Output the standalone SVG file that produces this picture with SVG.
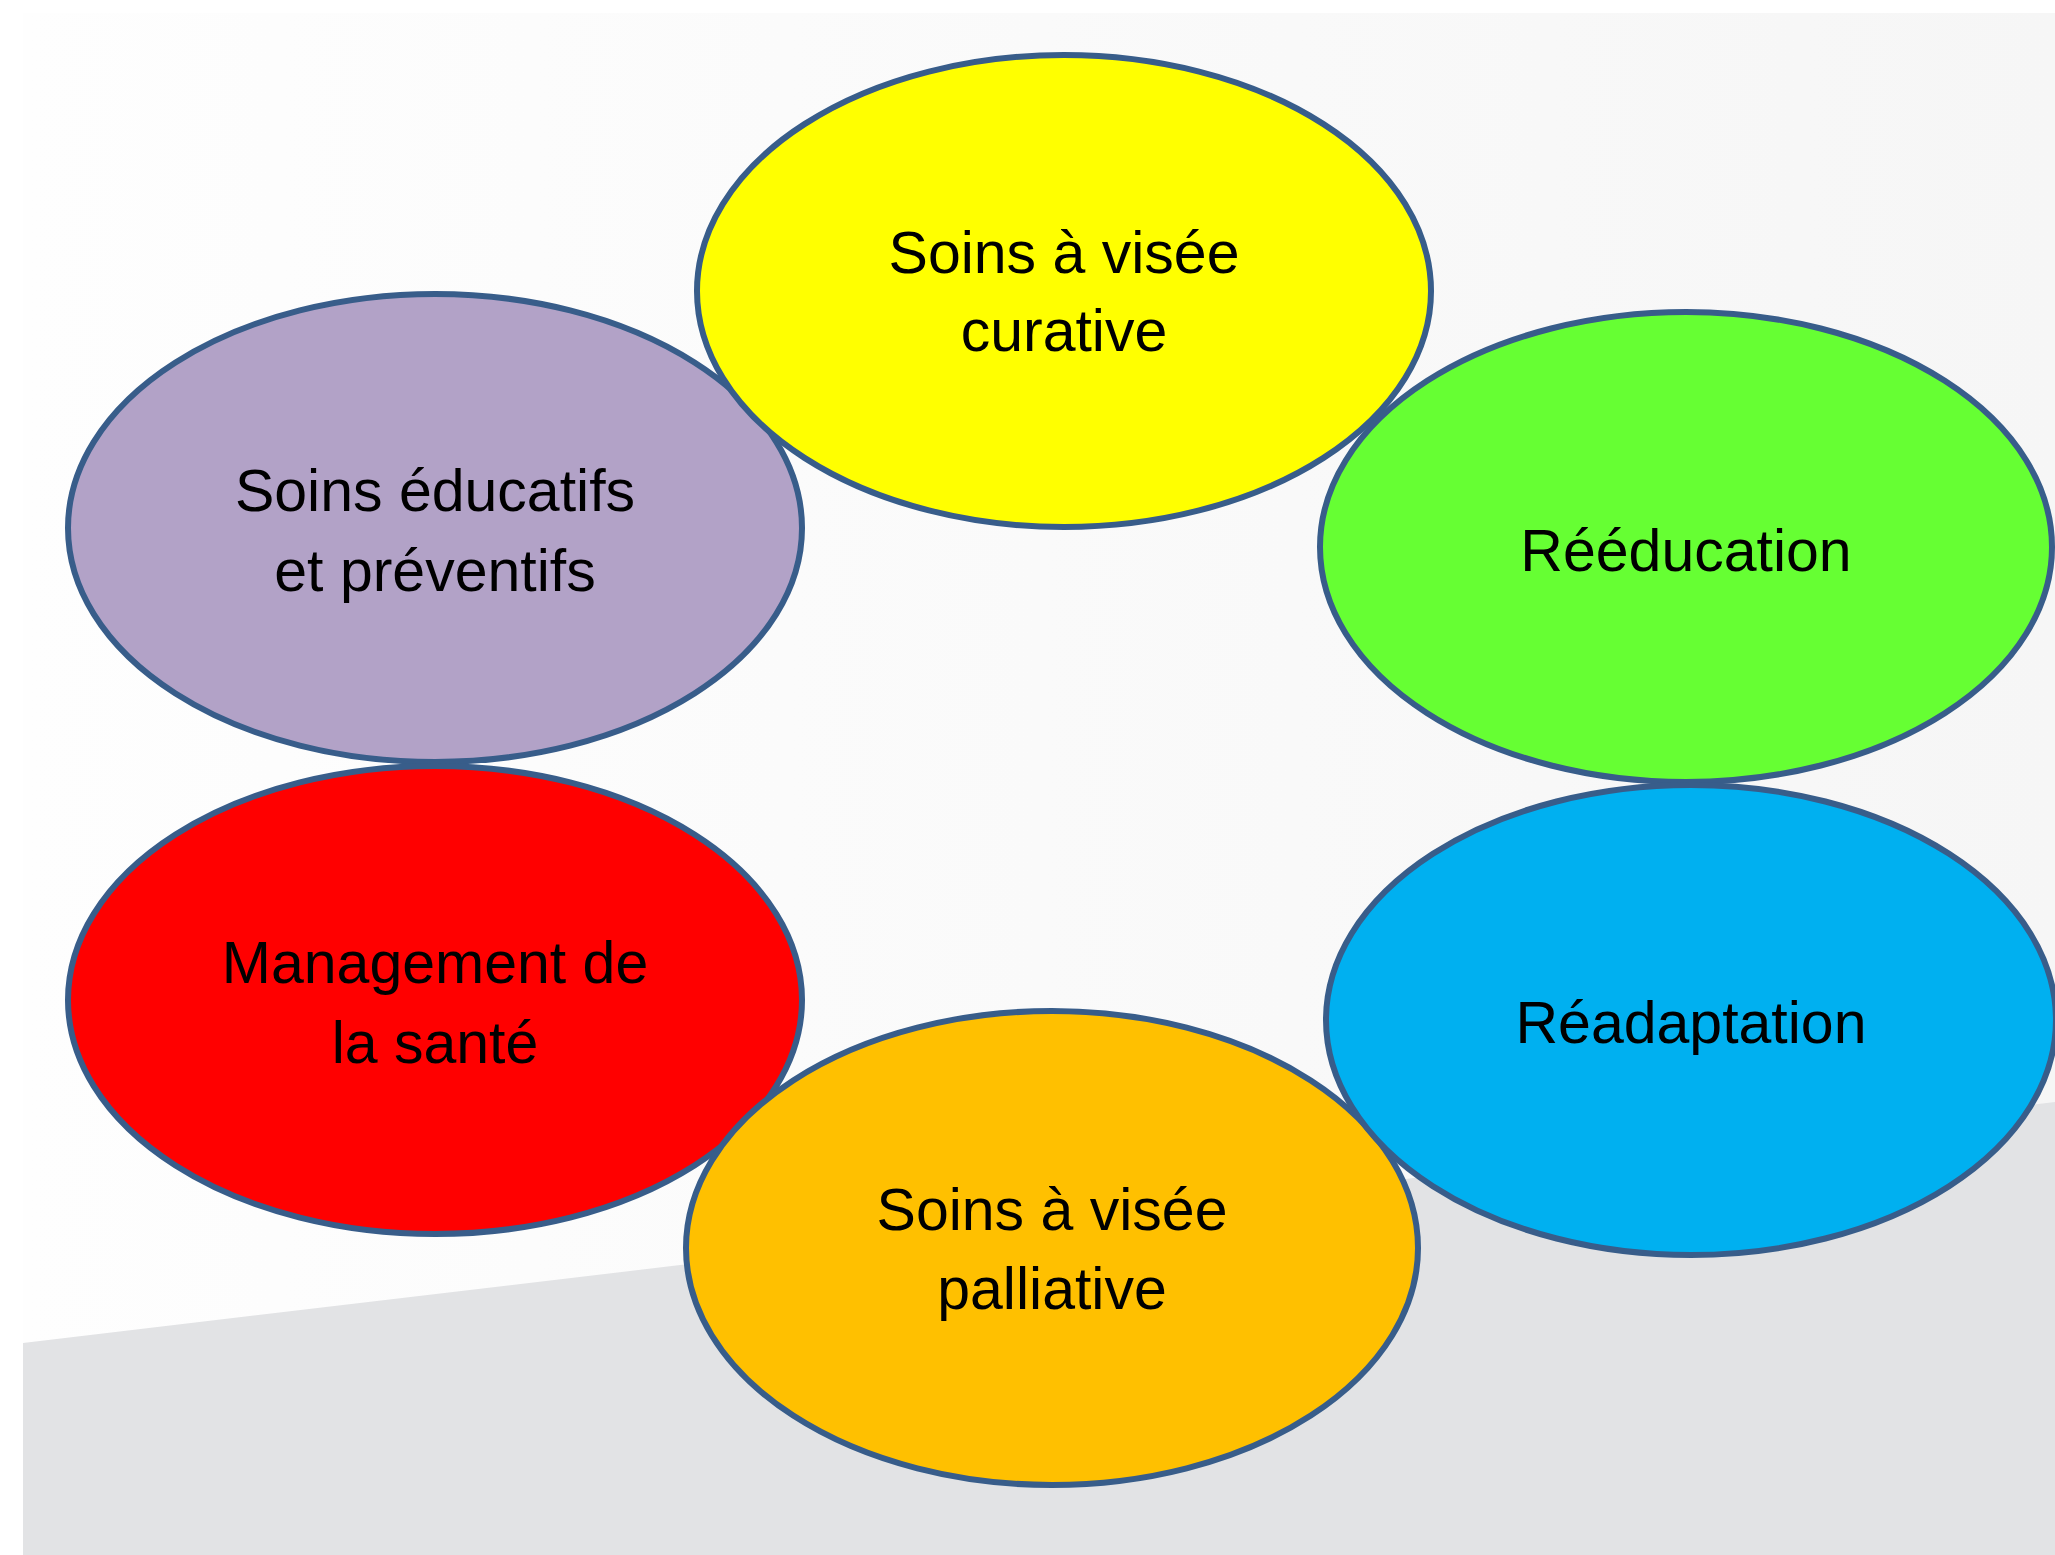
<svg xmlns="http://www.w3.org/2000/svg" width="2055" height="1555" viewBox="0 0 2055 1555">
<defs>
<linearGradient id="bg" x1="0" y1="0" x2="1" y2="0">
<stop offset="0" stop-color="#fefefe"/>
<stop offset="1" stop-color="#f6f6f6"/>
</linearGradient>
<style>
.n ellipse{stroke:#385d8a;stroke-width:6}
.n text{font-family:"Liberation Sans",Arial,sans-serif;font-size:59px;fill:#000;text-anchor:middle}
</style>
</defs>
<rect x="0" y="0" width="2055" height="1555" fill="#ffffff"/>
<rect x="23" y="13" width="2032" height="1542" fill="url(#bg)"/>
<polygon points="23,1343 2055,1102 2055,1555 23,1555" fill="#e2e3e5"/>
<g class="n" id="soins-educatifs">
<ellipse cx="435" cy="528" rx="367" ry="234" fill="#b2a2c7"/>
<text x="435" y="511">Soins éducatifs</text>
<text x="435" y="591">et préventifs</text>
</g>
<g class="n" id="management">
<ellipse cx="435" cy="1000" rx="367" ry="234" fill="#ff0000"/>
<text x="435" y="983">Management de</text>
<text x="435" y="1063">la santé</text>
</g>
<g class="n" id="soins-curative">
<ellipse cx="1064" cy="291" rx="367" ry="236" fill="#ffff00"/>
<text x="1064" y="273">Soins à visée</text>
<text x="1064" y="351">curative</text>
</g>
<g class="n" id="reeducation">
<ellipse cx="1686" cy="547" rx="366" ry="235" fill="#66ff33"/>
<text x="1686" y="571">Rééducation</text>
</g>
<g class="n" id="soins-palliative">
<ellipse cx="1052" cy="1248" rx="366" ry="237" fill="#ffc000"/>
<text x="1052" y="1230">Soins à visée</text>
<text x="1052" y="1309">palliative</text>
</g>
<g class="n" id="readaptation">
<ellipse cx="1691" cy="1020" rx="365" ry="235" fill="#00b0f0"/>
<text x="1691" y="1043">Réadaptation</text>
</g>
<g id="connectors"/>
</svg>
